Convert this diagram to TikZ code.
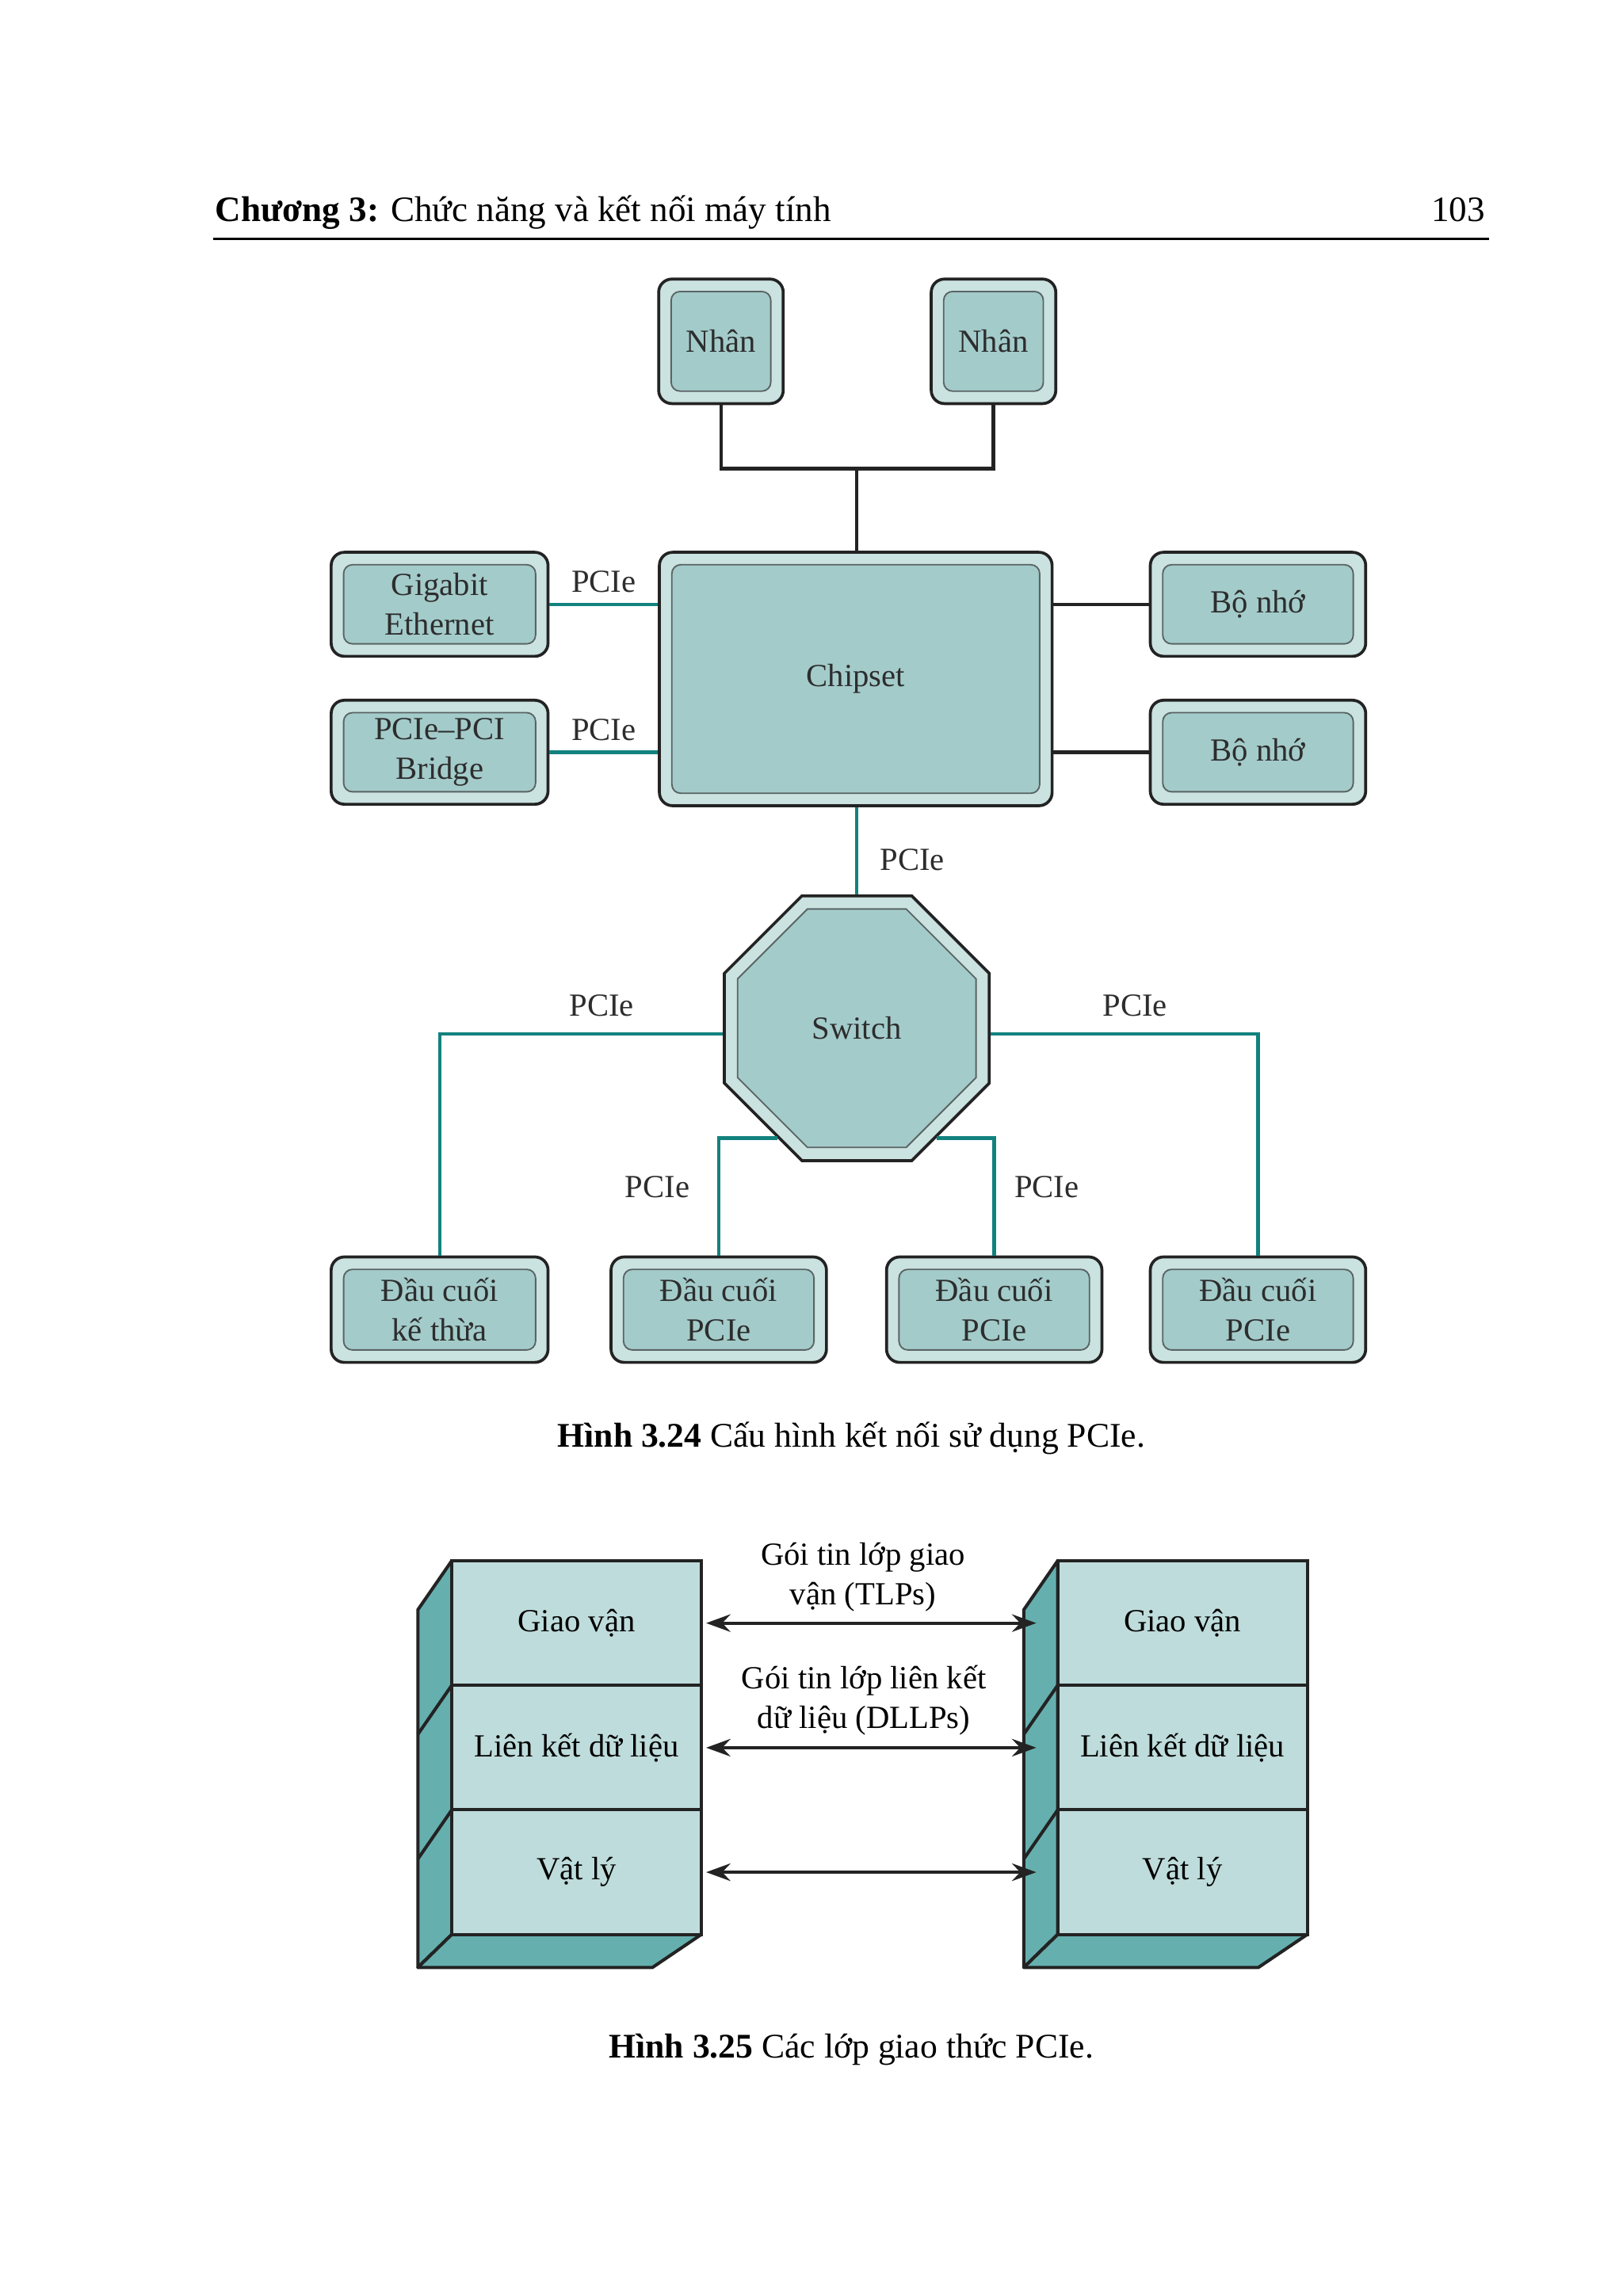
\documentclass[tikz,border=0pt]{standalone}
\usepackage{fontspec}
\setmainfont{Liberation Serif}
\usetikzlibrary{shapes.geometric,arrows.meta}

\definecolor{vienden}{RGB}{35,35,35}
\definecolor{vientrong}{RGB}{90,100,100}
\definecolor{nenngoai}{RGB}{202,226,224}
\definecolor{nentrong}{RGB}{163,203,202}
\definecolor{xanhday}{RGB}{18,130,126}
\definecolor{matsang}{RGB}{190,220,219}
\definecolor{matxanh}{RGB}{102,175,175}
\definecolor{chuxam}{RGB}{45,45,45}

\tikzset{every picture/.style={line width=1pt}}
\tikzset{
  chu/.style={font=\fontsize{11}{13.5}\selectfont},
  khoi/.style={chu, draw=vienden, line width=1pt, fill=nenngoai, rounded corners=4.5pt,
    text=chuxam, align=center, inner sep=0pt,
    path picture={\draw[draw=vientrong, line width=0.5pt, fill=nentrong, rounded corners=3pt]
      ([shift={(4.25pt,-4.25pt)}]path picture bounding box.north west) rectangle
      ([shift={(-4.25pt,4.25pt)}]path picture bounding box.south east);}},
  batgiac/.style={chu, regular polygon, regular polygon sides=8, minimum size=97.85pt,
    inner sep=0pt, draw=vienden, line width=1pt, fill=nenngoai, text=chuxam,
    path picture={\draw[draw=vientrong, line width=0.5pt, fill=nentrong]
      (path picture bounding box.center) ++(22.5:44.05pt) -- ++(135:33.7pt) -- ++(180:33.7pt)
      -- ++(225:33.7pt) -- ++(270:33.7pt) -- ++(315:33.7pt) -- ++(0:33.7pt) -- ++(45:33.7pt) -- cycle;}},
  dayden/.style={draw=vienden, line width=1.2pt},
  daypcie/.style={draw=xanhday, line width=1.2pt},
  nhanpcie/.style={chu, text=chuxam},
  tang/.style={chu, draw=vienden, line width=1.1pt, fill=matsang, minimum width=85.15pt,
    minimum height=42.55pt, inner sep=0pt},
  matben/.style={fill=matxanh, draw=vienden, line width=1.1pt, line join=round},
  muiten/.style={draw=vienden, line width=1.1pt,
    arrows={Stealth[length=8.3pt,width=6pt,inset=2.8pt]-Stealth[length=8.3pt,width=6pt,inset=2.8pt]}},
  chuthich/.style={font=\fontsize{11.8}{14}\selectfont},
  dautrang/.style={font=\fontsize{12.2}{14}\selectfont, inner sep=0pt}
}

\begin{document}
\begin{tikzpicture}[x=0.5pt,y=-0.5pt]
\useasboundingbox (0,0) rectangle (1107.6,1567.3);

% Text Node
\node[dautrang, anchor=base west] (tieude) at (146,151.4) {\textbf{Chương 3:} Chức năng và kết nối máy tính};
% Text Node
\node[dautrang, anchor=base east] (sotrang) at (1014.5,151.4) {103};
%Straight Lines
\draw[line width=0.9pt] (145.5,163.2) -- (1016,163.2);

%Shape: Rounded Rect
\node[khoi, minimum width=42.5pt, minimum height=42.5pt] (nhanA) at (492,233) {Nhân};
\node[khoi, minimum width=42.5pt, minimum height=42.5pt] (nhanB) at (678,233) {Nhân};
\node[khoi, minimum width=134pt, minimum height=86.5pt] (chipset) at (584,463.5) {Chipset};
\node[khoi, minimum width=74pt, minimum height=35.5pt] (gigabit) at (300,412.5) {Gigabit\\Ethernet};
\node[khoi, minimum width=74pt, minimum height=35.5pt] (cauPCI) at (300,513.5) {PCIe–PCI\\Bridge};
\node[khoi, minimum width=73.5pt, minimum height=35.5pt] (boNhoA) at (858.5,412.5) {Bộ nhớ};
\node[khoi, minimum width=73.5pt, minimum height=35.5pt] (boNhoB) at (858.5,513.5) {Bộ nhớ};
%Shape: Octagon
\node[batgiac] (switch) at (584.7,701.9) {Switch};
%Shape: Rounded Rect
\node[khoi, minimum width=74pt, minimum height=36pt] (dauCuoiA) at (300,894) {Đầu cuối\\kế thừa};
\node[khoi, minimum width=73.5pt, minimum height=36pt] (dauCuoiB) at (490.5,894) {Đầu cuối\\PCIe};
\node[khoi, minimum width=73.5pt, minimum height=36pt] (dauCuoiC) at (678.5,894) {Đầu cuối\\PCIe};
\node[khoi, minimum width=73.5pt, minimum height=36pt] (dauCuoiD) at (858.5,894) {Đầu cuối\\PCIe};

%Straight Lines
\coordinate (re) at (584.7,320);
\draw[dayden] (nhanA.south) |- (re) -| (nhanB.south);
\draw[dayden] (re) -- (re |- chipset.north);
\draw[daypcie] (gigabit.east) -- (gigabit.east -| chipset.west) node[nhanpcie, midway, above] {PCIe};
\draw[daypcie] (cauPCI.east) -- (cauPCI.east -| chipset.west) node[nhanpcie, midway, above] {PCIe};
\draw[dayden] (chipset.east |- boNhoA.west) -- (boNhoA.west);
\draw[dayden] (chipset.east |- boNhoB.west) -- (boNhoB.west);
\draw[daypcie] (switch.north |- chipset.south) -- (switch.north) node[nhanpcie, pos=0.6, right=4pt] {PCIe};
\draw[daypcie] ([yshift=-2pt]switch.west) -| (dauCuoiA.north) node[nhanpcie, pos=0.214, above=2pt] {PCIe};
\draw[daypcie] ([yshift=-2pt]switch.east) -| (dauCuoiD.north) node[nhanpcie, pos=0.27, above=2pt] {PCIe};
\draw[daypcie] (switch.234) -| (dauCuoiB.north) node[nhanpcie, pos=0.71, left=6pt] {PCIe};
\draw[daypcie] (switch.306) -| (dauCuoiC.north) node[nhanpcie, pos=0.71, right=3pt] {PCIe};

% Text Node
\node[chuthich] (hinhA) at (581,982) {\textbf{Hình 3.24} Cấu hình kết nối sử dụng PCIe.};

\foreach \dx/\ben in {0/T,413.5/P}{
\begin{scope}[shift={(\dx,0)}]
%Shape: Side and bottom faces
\draw[matben] (285.2,1098.8) -- (308.3,1065.4) -- (308.3,1320.5) -- (285.2,1343) -- cycle;
\draw[matben] (285.2,1343) -- (308.3,1320.5) -- (478.6,1320.5) -- (445.3,1343) -- cycle;
\draw[vienden, line width=1.1pt] (308.3,1150.4) -- (285.2,1183.8) (308.3,1235.5) -- (285.2,1268.9);
%Shape: Layers
\node[tang] (giao\ben) at (393.45,1107.95) {Giao vận};
\node[tang] (lien\ben) at (393.45,1193) {Liên kết dữ liệu};
\node[tang] (vat\ben) at (393.45,1278) {Vật lý};
\end{scope}
}

%Straight Lines
\draw[muiten] ([xshift=1.1pt]giaoT.east) -- ([xshift=-6.75pt]giaoP.west)
  node[chu, midway, above, xshift=-2.8pt, align=center] {Gói tin lớp giao\\vận (TLPs)};
\draw[muiten] ([xshift=1.1pt]lienT.east) -- ([xshift=-6.75pt]lienP.west)
  node[chu, midway, above=0.5pt, xshift=-2.5pt, align=center] {Gói tin lớp liên kết\\dữ liệu (DLLPs)};
\draw[muiten] ([xshift=1.1pt]vatT.east) -- ([xshift=-6.75pt]vatP.west);

% Text Node
\node[chuthich] (hinhB) at (581,1399) {\textbf{Hình 3.25} Các lớp giao thức PCIe.};

\end{tikzpicture}
\end{document}
